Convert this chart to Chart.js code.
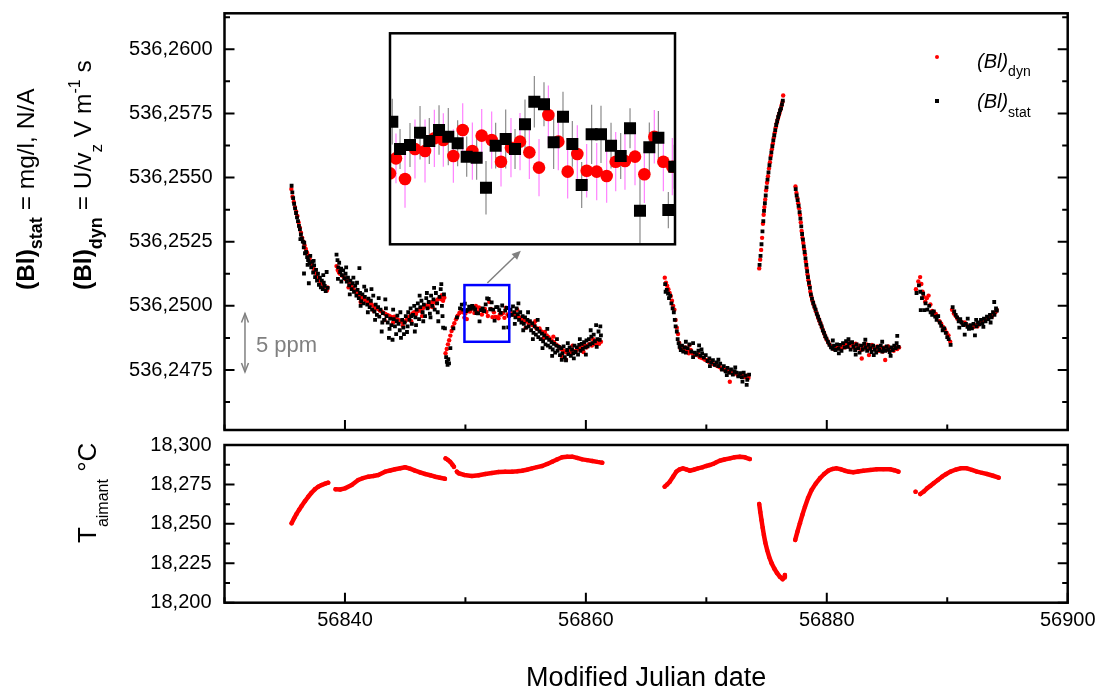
<!DOCTYPE html>
<html><head><meta charset="utf-8">
<script src="https://cdn.jsdelivr.net/npm/chart.js@4.4.0/dist/chart.umd.min.js"></script>
<style>
html,body{margin:0;padding:0;background:#fff;}
#wrap{position:relative;width:1099px;height:688px;overflow:hidden;background:#fff;font-family:'Liberation Sans',Arial,sans-serif;color:#000;}
canvas{position:absolute;}
.vt{position:absolute;transform-origin:0 0;transform:rotate(-90deg);white-space:nowrap;line-height:1;}
.rel{position:relative;}
.lg{position:absolute;white-space:nowrap;line-height:1;}
</style></head>
<body><div id="wrap">
<canvas id="cTop" width="1099" height="688" style="left:0;top:0"></canvas>
<canvas id="cBot" width="1099" height="688" style="left:0;top:0"></canvas>
<canvas id="cIns" width="290" height="216" style="left:388px;top:31px"></canvas>

<div class="vt" style="left:14px;top:290px;font-size:24.5px"><b>(Bl)</b><b class="rel" style="font-size:18px;top:8px">stat</b> = mg/l, N/A</div>
<div class="vt" style="left:71px;top:290px;font-size:24.5px"><b>(Bl)</b><b class="rel" style="font-size:18px;top:11px">dyn</b> = U/v<span class="rel" style="font-size:17px;top:11px">z</span> V m<span class="rel" style="font-size:16px;top:-11px">-1</span> s</div>
<div class="vt" style="left:74px;top:543px;font-size:26px">T<span class="rel" style="font-size:16px;top:12px">aimant</span> °C</div>

<div style="position:absolute;left:935px;top:55px;width:4px;height:4px;border-radius:2px;background:#ff0000"></div>
<div style="position:absolute;left:935px;top:99px;width:3.5px;height:3.5px;background:#000"></div>
<div class="lg" style="left:977px;top:51px;font-size:20px"><i>(Bl)</i><span class="rel" style="font-size:14px;top:8px">dyn</span></div>
<div class="lg" style="left:977px;top:91px;font-size:20px"><i>(Bl)</i><span class="rel" style="font-size:14px;top:9px">stat</span></div>
<div class="lg" style="left:256px;top:334px;font-size:22px;color:#808080">5 ppm</div>
</div>
<script>
// ---------- tick values ----------
const xMajorTicks = [56840, 56860, 56880, 56900];
const xMinorTicks = [56830, 56850, 56870, 56890];
const blMajorTicks = [536.2475, 536.2500, 536.2525, 536.2550, 536.2575, 536.2600];
const blMinorTicks = [536.24625, 536.24875, 536.25125, 536.25375, 536.25625, 536.25875, 536.26125];
const tMajorTicks = [18.200, 18.225, 18.250, 18.275, 18.300];
const tMinorTicks = [18.2125, 18.2375, 18.2625, 18.2875];
const xRange = [56830, 56900];
const blRange = [536.245161, 536.261403];
const tRange = [18.200, 18.300];
const zoomBoxX = [56849.92, 56853.64];
const zoomBoxY = [536.24860, 536.25081];
const insetY = [536.24880, 536.25101];

// ---------- (Bl)_dyn : [MJD, value, (error)] ----------
const blDyn = [
[56835.55,536.25455],[56835.65,536.25425],[56835.75,536.25405],[56835.85,536.25385],[56835.95,536.25368],[56836.05,536.25350],[56836.15,536.25325],[56836.25,536.25305],[56836.35,536.25285],[56836.45,536.25265],[56836.55,536.25250],[56836.65,536.25235],[56836.75,536.25222],[56836.85,536.25208],[56836.95,536.25196],[56837.05,536.25186],[56837.15,536.25172],[56837.25,536.25160],[56837.35,536.25150],[56837.45,536.25140],[56837.55,536.25130],[56837.65,536.25118],[56837.75,536.25108],[56837.90,536.25098],[56838.05,536.25088],[56838.20,536.25075],[56838.35,536.25066],[56838.50,536.25060],[56838.55,536.25072],
[56839.30,536.25155],[56839.40,536.25140],[56839.50,536.25130],[56839.60,536.25125],[56839.75,536.25118],[56839.90,536.25112],[56840.05,536.25104],[56840.20,536.25098],[56840.35,536.25090],[56840.50,536.25078],[56840.65,536.25070],[56840.80,536.25060],[56840.95,536.25052],[56841.10,536.25045],[56841.25,536.25040],[56841.40,536.25032],[56841.55,536.25028],[56841.70,536.25022],[56841.85,536.25018],[56842.00,536.25012],[56842.15,536.25008],[56842.30,536.25002],[56842.45,536.24996],[56842.60,536.24992],[56842.75,536.24988],[56842.90,536.24982],[56843.05,536.24978],[56843.20,536.24972],[56843.35,536.24968],[56843.50,536.24965],[56843.65,536.24962],[56843.80,536.24958],[56843.95,536.24955],[56844.10,536.24958],[56844.25,536.24950],[56844.40,536.24946],[56844.55,536.24942],[56844.70,536.24938],[56844.85,536.24935],[56845.00,536.24940],[56845.15,536.24948],[56845.30,536.24956],[56845.45,536.24962],[56845.60,536.24970],[56845.75,536.24975],[56845.90,536.24968],[56846.05,536.24980],[56846.20,536.24986],[56846.35,536.24978],[56846.50,536.24992],[56846.65,536.24998],[56846.80,536.25002],[56846.95,536.24995],[56847.10,536.25008],[56847.25,536.25015],[56847.40,536.25020],[56847.55,536.25012],[56847.70,536.25025],[56847.85,536.25030],[56848.00,536.25026],[56848.15,536.25020],[56848.25,536.25032],
[56840.30,536.25072],[56841.30,536.25015],[56842.40,536.24980],[56843.30,536.24945],[56844.00,536.24935],[56844.80,536.24922],[56845.50,536.24940],[56846.40,536.24960],[56847.30,536.24995],[56848.05,536.25042],
[56848.35,536.24815],[56848.45,536.24832],[56848.55,536.24850],[56848.65,536.24866],[56848.75,536.24884],[56848.85,536.24902],[56848.95,536.24918],[56849.08,536.24932],[56849.22,536.24948],[56849.36,536.24962],[56849.50,536.24972],[56849.65,536.24978],[56849.80,536.24975],
[56849.920,536.249543,0.00028],[56849.998,536.249700,0.00026],[56850.116,536.249484,0.00030],[56850.246,536.249798,0.00031],[56850.377,536.249777,0.00033],[56850.499,536.249910,0.00030],[56850.616,536.249892,0.00028],[56850.747,536.249725,0.00028],[56850.869,536.249997,0.00028],[56850.995,536.249777,0.00030],[56851.117,536.249938,0.00028],[56851.247,536.249892,0.00030],[56851.369,536.249665,0.00026],[56851.499,536.249812,0.00031],[56851.617,536.249875,0.00030],[56851.739,536.249763,0.00028],[56851.865,536.249603,0.00030],[56851.987,536.250154,0.00031],[56852.117,536.249875,0.00030],[56852.239,536.249561,0.00028],[56852.365,536.249746,0.00030],[56852.487,536.249571,0.00028],[56852.618,536.249561,0.00030],[56852.748,536.249515,0.00028],[56852.866,536.249665,0.00031],[56852.987,536.249672,0.00030],[56853.118,536.249718,0.00030],[56853.240,536.249533,0.00030],[56853.370,536.249927,0.00028],[56853.488,536.249665,0.00031],[56853.605,536.249613,0.00030],
[56853.75,536.24972],[56853.90,536.24965],[56854.05,536.24970],[56854.20,536.24962],[56854.35,536.24958],[56854.50,536.24955],[56854.65,536.24948],[56854.80,536.24952],[56854.95,536.24940],[56855.10,536.24942],[56855.25,536.24932],[56855.40,536.24935],[56855.55,536.24925],[56855.70,536.24928],[56855.85,536.24915],[56856.00,536.24910],[56856.15,536.24912],[56856.30,536.24900],[56856.45,536.24895],[56856.60,536.24898],[56856.75,536.24885],[56856.90,536.24878],[56857.05,536.24870],[56857.20,536.24862],[56857.35,536.24858],[56857.50,536.24850],[56857.65,536.24845],[56857.80,536.24840],[56857.95,536.24832],[56858.10,536.24826],[56858.25,536.24822],[56858.35,536.24790],[56858.40,536.24818],[56858.55,536.24828],[56858.70,536.24820],[56858.85,536.24815],[56859.00,536.24824],[56859.15,536.24820],[56859.30,536.24830],[56859.45,536.24835],[56859.60,536.24828],[56859.75,536.24840],[56859.90,536.24845],[56860.05,536.24838],[56860.20,536.24848],[56860.35,536.24852],[56860.50,536.24845],[56860.65,536.24855],[56860.80,536.24850],[56860.95,536.24858],[56861.10,536.24852],[56861.25,536.24860],
[56854.30,536.24985],[56855.00,536.24915],[56855.80,536.24940],[56856.50,536.24875],[56857.30,536.24880],[56858.00,536.24805],[56858.90,536.24845],[56859.80,536.24820],[56860.60,536.24870],
[56866.55,536.25110],[56866.65,536.25090],[56866.75,536.25078],[56866.85,536.25065],[56866.95,536.25050],[56867.05,536.25038],[56867.15,536.25020],[56867.25,536.25000],[56867.35,536.24985],[56867.45,536.24945],[56867.55,536.24915],[56867.65,536.24890],[56867.75,536.24855],[56867.85,536.24835],[56867.95,536.24842],[56868.10,536.24830],[56868.25,536.24838],[56868.40,536.24825],[56868.55,536.24815],[56868.60,536.24847],[56868.70,536.24828],[56868.85,536.24815],[56869.00,536.24812],[56869.15,536.24808],[56869.30,536.24812],[56869.45,536.24800],[56869.60,536.24798],[56869.75,536.24795],[56869.90,536.24790],[56870.05,536.24788],[56870.20,536.24782],[56870.35,536.24785],[56870.50,536.24775],[56870.65,536.24772],[56870.80,536.24768],[56870.95,536.24765],[56871.10,536.24762],[56871.25,536.24755],[56871.40,536.24758],[56871.55,536.24750],[56871.70,536.24748],[56871.85,536.24745],[56871.95,536.24704],[56872.00,536.24740],[56872.15,536.24742],[56872.30,536.24735],[56872.45,536.24738],[56872.60,536.24730],[56872.75,536.24728],[56872.90,536.24732],[56873.05,536.24725],[56873.20,536.24722],[56873.35,536.24728],[56873.50,536.24720],
[56874.39,536.25146],[56874.47,536.25180],[56874.55,536.25218],[56874.63,536.25265],[56874.70,536.25320],[56874.76,536.25355],[56874.82,536.25385],[56874.89,536.25415],[56874.96,536.25450],[56875.04,536.25480],[56875.12,536.25505],[56875.20,536.25535],[56875.28,536.25560],[56875.36,536.25585],[56875.44,536.25610],[56875.52,536.25632],[56875.60,536.25655],[56875.68,536.25675],[56875.76,536.25695],[56875.84,536.25712],[56875.92,536.25726],[56876.00,536.25740],[56876.08,536.25752],[56876.16,536.25765],[56876.24,536.25780],[56876.32,536.25795],[56876.38,536.25820],
[56877.40,536.25465],[56877.48,536.25440],[56877.56,536.25420],[56877.63,536.25400],[56877.70,536.25380],[56877.77,536.25355],[56877.84,536.25325],[56877.91,536.25292],[56877.98,536.25265],[56878.05,536.25245],[56878.12,536.25222],[56878.19,536.25200],[56878.26,536.25172],[56878.33,536.25148],[56878.40,536.25122],[56878.47,536.25100],[56878.55,536.25080],[56878.63,536.25055],[56878.71,536.25038],[56878.80,536.25020],[56878.90,536.25005],[56879.00,536.24992],[56879.10,536.24978],[56879.20,536.24965],[56879.30,536.24952],[56879.40,536.24940],[56879.50,536.24928],[56879.60,536.24915],[56879.70,536.24902],[56879.80,536.24890],[56879.90,536.24878],[56880.00,536.24868],[56880.15,536.24855],[56880.30,536.24845],[56880.45,536.24838],[56880.60,536.24832],[56880.75,536.24840],[56880.90,536.24835],[56881.05,536.24842],[56881.20,536.24832],[56881.35,536.24845],[56881.50,536.24838],[56881.65,536.24850],[56881.80,536.24842],[56881.95,536.24855],[56882.10,536.24848],[56882.25,536.24838],[56882.40,536.24852],[56882.55,536.24835],[56882.70,536.24845],[56882.85,536.24828],[56882.90,536.24795],[56883.00,536.24842],[56883.15,536.24835],[56883.30,536.24850],[56883.45,536.24840],[56883.50,536.24808],[56883.60,536.24832],[56883.75,536.24848],[56883.90,536.24838],[56884.05,536.24830],[56884.20,536.24842],[56884.35,536.24825],[56884.50,536.24835],[56884.65,536.24822],[56884.80,536.24838],[56884.85,536.24789],[56884.95,536.24828],[56885.10,536.24842],[56885.25,536.24830],[56885.40,536.24835],[56885.55,536.24825],[56885.70,536.24840],[56885.85,536.24832],[56886.00,536.24838],
[56887.40,536.25065],[56887.60,536.25095],[56887.75,536.25112],[56887.85,536.25085],[56887.95,536.25055],[56888.05,536.25035],[56888.17,536.25016],[56888.30,536.25030],[56888.45,536.25040],[56888.60,536.25005],[56888.75,536.24980],[56888.90,536.24975],[56889.05,536.24968],[56889.20,536.24960],[56889.35,536.24940],[56889.50,536.24930],[56889.65,536.24918],[56889.80,536.24908],[56889.95,536.24895],[56890.10,536.24885],[56890.25,536.24860],[56890.40,536.24985],[56890.55,536.24970],[56890.70,536.24960],[56890.85,536.24950],[56891.00,536.24945],[56891.15,536.24938],[56891.30,536.24930],[56891.45,536.24935],[56891.60,536.24925],[56891.75,536.24920],[56891.90,536.24915],[56892.05,536.24922],[56892.20,536.24918],[56892.35,536.24925],[56892.50,536.24920],[56892.65,536.24930],[56892.80,536.24935],[56892.95,536.24940],[56893.10,536.24945],[56893.25,536.24950],[56893.40,536.24955],[56893.55,536.24962],[56893.70,536.24958],[56893.85,536.24968],[56894.00,536.24975],[56894.10,536.24985]
];

// ---------- (Bl)_stat : [MJD, value, (error)] ----------
const blStat = [
[56835.57,536.25468],[56835.63,536.25442],[56835.70,536.25420],[56835.78,536.25398],[56835.86,536.25380],[56835.94,536.25362],[56836.02,536.25345],[56836.10,536.25330],[56836.18,536.25312],[56836.26,536.25298],[56836.34,536.25278],[56836.42,536.25262],[56836.50,536.25250],[56836.58,536.25228],[56836.62,536.25246],[56836.68,536.25205],[56836.60,536.25126],[56836.78,536.25210],[56836.86,536.25190],[56836.94,536.25178],[56837.00,536.25088],[56837.05,536.25165],[56837.12,536.25195],[56837.20,536.25150],[56837.28,536.25172],[56837.36,536.25130],[56837.44,536.25158],[56837.52,536.25112],[56837.60,536.25140],[56837.68,536.25098],[56837.76,536.25125],[56837.84,536.25082],[56837.92,536.25110],[56838.00,536.25072],[56838.08,536.25098],[56838.16,536.25065],[56838.24,536.25090],[56838.32,536.25078],[56838.40,536.25058],[56838.48,536.25132],[56838.56,536.25070],
[56836.30,536.25260],[56836.90,536.25160],[56837.40,536.25175],[56838.20,536.25120],
[56839.30,536.25200],[56839.38,536.25178],[56839.45,536.25150],[56839.52,536.25168],[56839.60,536.25132],[56839.68,536.25145],[56839.75,536.25120],[56839.85,536.25138],[56839.95,536.25108],[56840.05,536.25125],[56840.15,536.25095],[56840.25,536.25110],[56840.35,536.25080],[56840.45,536.25098],[56840.55,536.25065],[56840.65,536.25088],[56840.75,536.25055],[56840.85,536.25078],[56840.95,536.25040],[56841.05,536.25062],[56841.15,536.25030],[56841.20,536.25147],[56841.25,536.25050],[56841.35,536.25018],[56841.45,536.25045],[56841.55,536.25010],[56841.65,536.25035],[56841.75,536.25060],[56841.85,536.25005],[56841.95,536.25028],[56842.05,536.24995],[56842.15,536.25020],[56842.25,536.24985],[56842.35,536.25040],[56842.45,536.24978],[56842.55,536.25005],[56842.65,536.24965],[56842.75,536.24995],[56842.85,536.24958],[56842.95,536.24985],[56843.05,536.24900],[56843.15,536.24972],[56843.25,536.24945],[56843.35,536.25025],[56843.45,536.24960],[56843.55,536.24935],[56843.65,536.24875],[56843.75,536.24950],[56843.85,536.24925],[56843.95,536.24868],[56844.05,536.24948],[56844.15,536.24920],[56844.25,536.24890],[56844.35,536.24962],[56844.45,536.24930],[56844.55,536.24905],[56844.65,536.24875],[56844.75,536.24945],[56844.85,536.24915],[56844.95,536.24935],[56845.05,536.24960],[56845.15,536.24898],[56845.25,536.24975],[56845.35,536.24945],[56845.45,536.24990],[56845.55,536.24930],[56845.65,536.24965],[56845.75,536.25000],[56845.80,536.24900],[56845.85,536.24955],[56845.95,536.24985],[56846.05,536.25010],[56846.15,536.24948],[56846.25,536.24995],[56846.35,536.25020],[56846.45,536.24975],[56846.55,536.25005],[56846.65,536.24960],[56846.75,536.25030],[56846.85,536.24990],[56846.95,536.25015],[56847.05,536.24970],[56847.15,536.25040],[56847.25,536.25000],[56847.35,536.25025],[56847.45,536.24985],[56847.55,536.25050],[56847.65,536.25010],[56847.75,536.24940],[56847.85,536.25035],[56847.95,536.25065],[56848.05,536.25000],[56848.15,536.24915],[56848.22,536.25045],[56848.30,536.24912],
[56839.42,536.25105],[56839.70,536.25095],[56840.10,536.25150],[56840.40,536.25045],[56840.70,536.25110],[56841.00,536.25090],[56841.30,536.25000],[56841.60,536.25075],[56841.90,536.24975],[56842.20,536.25065],[56842.50,536.24945],[56842.80,536.25030],[56843.10,536.24935],[56843.40,536.24990],[56843.70,536.24910],[56844.00,536.24985],[56844.30,536.24940],[56844.60,536.24975],[56844.90,536.24890],[56845.20,536.24920],[56845.50,536.24960],[56845.90,536.24925],[56846.20,536.25040],[56846.50,536.24940],[56846.80,536.25050],[56847.10,536.24955],[56847.40,536.25070],[56847.70,536.24975],[56848.00,536.25085],[56848.10,536.24960],
[56848.40,536.24800],[56848.46,536.24782],[56848.52,536.24770],[56848.58,536.24792],[56848.64,536.24776],[56848.75,536.24835],[56849.00,536.24912],[56849.30,536.24955],[56849.55,536.24990],[56849.70,536.25005],[56849.82,536.24985],
[56849.950,536.250084,0.00024],[56850.051,536.249798,0.00021],[56850.181,536.249840,0.00023],[56850.312,536.249969,0.00028],[56850.433,536.249882,0.00024],[56850.560,536.249997,0.00026],[56850.681,536.249927,0.00030],[56850.803,536.249858,0.00024],[56850.921,536.249718,0.00021],[56851.051,536.249707,0.00023],[56851.173,536.249393,0.00028],[56851.299,536.249833,0.00024],[56851.430,536.249903,0.00031],[56851.552,536.249798,0.00021],[56851.682,536.250057,0.00026],[56851.804,536.250294,0.00027],[56851.930,536.250266,0.00023],[56852.056,536.249868,0.00028],[56852.178,536.250137,0.00026],[56852.300,536.249851,0.00024],[56852.422,536.249421,0.00024],[56852.552,536.249952,0.00031],[56852.674,536.249952,0.00030],[56852.805,536.249833,0.00024],[56852.931,536.249725,0.00024],[56853.053,536.250015,0.00021],[56853.183,536.249152,0.00037],[56853.305,536.249816,0.00026],[56853.423,536.249917,0.00028],[56853.553,536.249159,0.00019],[56853.631,536.249613,0.00023],
[56853.75,536.24985],[56853.85,536.24965],[56853.95,536.24998],[56854.05,536.24975],[56854.15,536.24955],[56854.25,536.24990],[56854.35,536.24968],[56854.45,536.24945],[56854.55,536.24975],[56854.65,536.24935],[56854.75,536.24960],[56854.85,536.24930],[56854.95,536.24955],[56855.05,536.24915],[56855.15,536.24945],[56855.25,536.24920],[56855.35,536.24940],[56855.45,536.24905],[56855.55,536.24932],[56855.65,536.24895],[56855.75,536.24920],[56855.85,536.24888],[56855.95,536.24910],[56856.05,536.24878],[56856.15,536.24900],[56856.25,536.24870],[56856.35,536.24892],[56856.45,536.24862],[56856.55,536.24885],[56856.65,536.24850],[56856.75,536.24875],[56856.85,536.24845],[56856.95,536.24868],[56857.05,536.24838],[56857.15,536.24858],[56857.25,536.24830],[56857.35,536.24852],[56857.45,536.24818],[56857.55,536.24845],[56857.65,536.24825],[56857.75,536.24840],[56857.85,536.24808],[56857.95,536.24835],[56858.05,536.24815],[56858.15,536.24842],[56858.25,536.24800],[56858.35,536.24788],[56858.45,536.24828],[56858.55,536.24812],[56858.65,536.24838],[56858.75,536.24805],[56858.85,536.24830],[56858.95,536.24815],[56859.05,536.24845],[56859.15,536.24820],[56859.25,536.24838],[56859.35,536.24810],[56859.45,536.24848],[56859.55,536.24825],[56859.65,536.24852],[56859.75,536.24832],[56859.85,536.24858],[56859.95,536.24838],[56860.05,536.24865],[56860.15,536.24842],[56860.25,536.24870],[56860.35,536.24850],[56860.45,536.24880],[56860.55,536.24855],[56860.65,536.24888],[56860.75,536.24862],[56860.85,536.24925],[56860.95,536.24870],[56861.05,536.24900],[56861.15,536.24868],[56861.25,536.24885],
[56854.10,536.24930],[56854.40,536.25010],[56854.80,536.24905],[56855.20,536.24975],[56855.60,536.24870],[56856.00,536.24945],[56856.40,536.24835],[56856.80,536.24910],[56857.20,536.24805],[56857.60,536.24870],[56858.00,536.24790],[56858.50,536.24855],[56859.00,536.24795],[56859.50,536.24870],[56860.00,536.24810],[56860.40,536.24905],[56860.90,536.24840],[56861.20,536.24920],
[56866.58,536.25085],[56866.62,536.25055],[56866.72,536.25062],[56866.82,536.25048],[56866.90,536.25030],[56867.00,536.25040],[56867.10,536.25010],[56867.20,536.24990],[56867.30,536.24975],[56867.38,536.24945],[56867.45,536.24920],[56867.55,536.24900],[56867.62,536.24870],[56867.70,536.24855],[56867.78,536.24840],[56867.88,536.24828],[56867.98,536.24845],[56868.08,536.24822],[56868.20,536.24838],[56868.30,536.24818],[56868.45,536.24835],[56868.60,536.24850],[56868.75,536.24822],[56868.90,536.24855],[56869.05,536.24818],[56869.20,536.24810],[56869.35,536.24825],[56869.40,536.24846],[56869.50,536.24805],[56869.65,536.24815],[56869.80,536.24798],[56869.95,536.24808],[56870.10,536.24785],[56870.25,536.24795],[56870.40,536.24780],[56870.55,536.24788],[56870.70,536.24770],[56870.85,536.24780],[56871.00,536.24765],[56871.15,536.24775],[56871.30,536.24752],[56871.45,536.24765],[56871.60,536.24745],[56871.75,536.24758],[56871.90,536.24740],[56872.05,536.24752],[56872.20,536.24732],[56872.35,536.24745],[56872.50,536.24740],[56872.65,536.24725],[56872.80,536.24738],[56872.95,536.24722],[56873.10,536.24740],[56873.25,536.24728],[56873.35,536.24692],[56873.40,536.24712],[56873.55,536.24732],
[56868.30,536.24860],[56868.90,536.24800],[56869.60,536.24830],[56870.30,536.24765],[56871.00,536.24790],[56871.70,536.24730],[56872.40,536.24760],[56873.00,536.24705],
[56874.42,536.25160],[56874.50,536.25195],[56874.58,536.25240],[56874.66,536.25290],[56874.73,536.25330],[56874.79,536.25370],[56874.86,536.25400],[56874.93,536.25430],[56875.00,536.25462],[56875.08,536.25492],[56875.16,536.25520],[56875.24,536.25548],[56875.32,536.25575],[56875.40,536.25598],[56875.48,536.25622],[56875.56,536.25645],[56875.64,536.25665],[56875.72,536.25685],[56875.80,536.25705],[56875.88,536.25720],[56875.96,536.25735],[56876.04,536.25748],[56876.12,536.25762],[56876.20,536.25770],[56876.28,536.25785],[56876.35,536.25800],
[56877.42,536.25455],[56877.50,536.25430],[56877.58,536.25412],[56877.66,536.25390],[56877.74,536.25365],[56877.81,536.25340],[56877.88,536.25310],[56877.95,536.25280],[56878.02,536.25258],[56878.09,536.25232],[56878.16,536.25210],[56878.23,536.25185],[56878.30,536.25160],[56878.37,536.25135],[56878.44,536.25112],[56878.52,536.25090],[56878.60,536.25070],[56878.68,536.25045],[56878.77,536.25028],[56878.87,536.25012],[56878.97,536.24998],[56879.07,536.24985],[56879.17,536.24970],[56879.27,536.24958],[56879.37,536.24945],[56879.47,536.24932],[56879.57,536.24920],[56879.67,536.24905],[56879.77,536.24895],[56879.87,536.24882],[56879.97,536.24872],[56880.10,536.24860],[56880.22,536.24848],[56880.35,536.24838],[56880.48,536.24832],[56880.60,536.24845],[56880.72,536.24828],[56880.85,536.24850],[56880.98,536.24832],[56881.10,536.24848],[56881.22,536.24825],[56881.35,536.24855],[56881.48,536.24838],[56881.60,536.24862],[56881.72,536.24840],[56881.85,536.24855],[56881.98,536.24830],[56882.10,536.24858],[56882.22,536.24842],[56882.35,536.24828],[56882.48,536.24850],[56882.60,536.24835],[56882.72,536.24818],[56882.85,536.24845],[56882.98,536.24830],[56883.10,536.24852],[56883.22,536.24838],[56883.35,536.24825],[56883.48,536.24848],[56883.60,536.24835],[56883.72,536.24820],[56883.85,536.24845],[56883.98,536.24830],[56884.10,536.24818],[56884.22,536.24840],[56884.35,536.24828],[56884.48,536.24845],[56884.60,536.24822],[56884.72,536.24835],[56884.85,536.24825],[56884.98,536.24842],[56885.10,536.24830],[56885.22,536.24820],[56885.35,536.24838],[56885.48,536.24828],[56885.60,536.24845],[56885.72,536.24835],[56885.85,536.24883],[56885.95,536.24840],
[56880.50,536.24865],[56881.00,536.24815],[56881.80,536.24870],[56882.40,536.24810],[56883.20,536.24868],[56883.90,536.24808],[56884.60,536.24860],[56885.30,536.24805],[56885.80,536.24855],
[56887.45,536.25050],[56887.65,536.25080],[56887.76,536.25055],[56887.80,536.24983],[56887.90,536.25030],[56888.00,536.25048],[56888.10,536.24983],[56888.20,536.25010],[56888.35,536.24985],[56888.50,536.25000],[56888.62,536.24975],[56888.75,536.24965],[56888.88,536.24978],[56889.00,536.24958],[56889.12,536.24945],[56889.25,536.24960],[56889.38,536.24935],[56889.50,536.24922],[56889.62,536.24905],[56889.75,536.24912],[56889.88,536.24895],[56890.00,536.24878],[56890.12,536.24870],[56890.28,536.24848],[56890.45,536.24995],[56890.58,536.24978],[56890.70,536.24965],[56890.82,536.24955],[56890.95,536.24940],[56891.08,536.24948],[56891.20,536.24935],[56891.32,536.24925],[56891.45,536.24888],[56891.55,536.24930],[56891.68,536.24918],[56891.80,536.24910],[56891.92,536.24925],[56892.05,536.24912],[56892.18,536.24930],[56892.30,536.24885],[56892.42,536.24920],[56892.55,536.24935],[56892.68,536.24928],[56892.80,536.24945],[56892.92,536.24932],[56893.05,536.24950],[56893.18,536.24940],[56893.30,536.24958],[56893.42,536.24948],[56893.55,536.24965],[56893.68,536.24955],[56893.80,536.24975],[56893.90,536.25015],[56893.92,536.24965],[56894.05,536.24990],[56894.12,536.24982],
[56891.00,536.24915],[56891.70,536.24950],[56892.40,536.24945],[56893.00,536.24918],[56893.60,536.24935]
];

// ---------- T_aimant : [MJD, °C] (null = gap between runs) ----------
const tAimant = [
[56835.57,18.2504],[56835.78,18.2535],[56835.98,18.2563],[56836.20,18.2590],[56836.40,18.2613],[56836.67,18.2643],[56836.95,18.2672],[56837.22,18.2697],[56837.50,18.2719],[56837.78,18.2735],[56838.06,18.2746],[56838.35,18.2755],[56838.61,18.2761],[56838.90,null],
[56839.22,18.2719],[56839.60,18.2718],[56840.00,18.2725],[56840.56,18.2746],[56841.10,18.2778],[56841.50,18.2790],[56841.94,18.2799],[56842.35,18.2803],[56842.77,18.2810],[56843.33,18.2831],[56843.75,18.2838],[56844.16,18.2846],[56844.60,18.2853],[56844.99,18.2859],[56845.40,18.2850],[56845.82,18.2837],[56846.24,18.2826],[56846.66,18.2816],[56847.08,18.2808],[56847.49,18.2799],[56847.90,18.2792],[56848.30,18.2786],[56848.33,null],
[56848.35,18.2915],[56848.55,18.2905],[56848.73,18.2894],[56848.92,18.2875],[56849.05,18.2862],[56849.15,null],
[56849.29,18.2831],[56849.43,18.2821],[56849.90,18.2810],[56850.54,18.2803],[56851.10,18.2808],[56851.65,18.2816],[56852.20,18.2822],[56852.76,18.2829],[56853.30,18.2830],[56853.87,18.2831],[56854.30,18.2833],[56854.70,18.2837],[56855.10,18.2843],[56855.53,18.2852],[56855.95,18.2860],[56856.37,18.2867],[56856.80,18.2880],[56857.20,18.2894],[56857.60,18.2908],[56858.03,18.2922],[56858.45,18.2926],[56858.86,18.2926],[56859.28,18.2918],[56859.70,18.2909],[56860.10,18.2904],[56860.53,18.2899],[56860.95,18.2893],[56861.36,18.2888],[56862.00,null],
[56866.54,18.2736],[56866.75,18.2750],[56866.96,18.2767],[56867.25,18.2800],[56867.51,18.2831],[56867.78,18.2845],[56868.06,18.2852],[56868.34,18.2845],[56868.62,18.2837],[56868.95,18.2843],[56869.31,18.2852],[56869.65,18.2858],[56870.00,18.2867],[56870.28,18.2873],[56870.56,18.2880],[56870.83,18.2890],[56871.11,18.2900],[56871.50,18.2908],[56871.95,18.2915],[56872.35,18.2922],[56872.78,18.2926],[56873.20,18.2922],[56873.61,18.2911],[56874.00,null],
[56874.39,18.2626],[56874.48,18.2575],[56874.58,18.2524],[56874.68,18.2475],[56874.78,18.2429],[56874.90,18.2380],[56875.05,18.2334],[56875.22,18.2290],[56875.42,18.2250],[56875.65,18.2215],[56875.88,18.2187],[56876.10,18.2165],[56876.33,18.2149],[56876.45,18.2160],[56876.52,18.2176],[56877.00,null],
[56877.38,18.2398],[56877.57,18.2452],[56877.77,18.2504],[56877.98,18.2558],[56878.19,18.2609],[56878.45,18.2665],[56878.74,18.2715],[56879.08,18.2755],[56879.43,18.2789],[56879.78,18.2816],[56880.12,18.2837],[56880.47,18.2848],[56880.82,18.2852],[56881.17,18.2846],[56881.51,18.2837],[56881.85,18.2830],[56882.20,18.2827],[56882.60,18.2832],[56883.03,18.2837],[56883.60,18.2842],[56884.15,18.2846],[56884.70,18.2847],[56885.26,18.2846],[56885.60,18.2840],[56885.95,18.2831],[56886.50,null],
[56887.37,18.2704],[56887.55,null],
[56887.76,18.2689],[56888.05,18.2705],[56888.32,18.2725],[56888.60,18.2741],[56888.87,18.2757],[56889.22,18.2778],[56889.57,18.2799],[56889.92,18.2816],[56890.26,18.2831],[56890.68,18.2843],[56891.10,18.2852],[56891.63,18.2852],[56892.05,18.2842],[56892.47,18.2831],[56892.90,18.2823],[56893.30,18.2816],[56893.80,18.2805],[56894.27,18.2793]
];

// ---------- helpers ----------
const FONT = "'Liberation Sans', Arial, sans-serif";
Chart.defaults.font.family = FONT;
Chart.defaults.color = '#000';
const toPts = arr => arr.map(p => ({x: p[0], y: p[1], e: p[2]}));
const comma = (v, d) => Number(v).toFixed(d).replace('.', ',');

const framePlugin = {
  id: 'frame',
  afterDatasetsDraw(chart, args, o) {
    const {ctx, chartArea: a, scales: {x, y}} = chart;
    ctx.save();
    ctx.strokeStyle = '#000';
    ctx.lineWidth = 2;
    ctx.beginPath();
    const yt = (vals, len) => vals.forEach(v => {
      const p = y.getPixelForValue(v);
      if (p < a.top - 0.5 || p > a.bottom + 0.5) return;
      ctx.moveTo(a.left, p); ctx.lineTo(a.left + len, p);
      ctx.moveTo(a.right, p); ctx.lineTo(a.right - len, p);
    });
    const xt = (vals, len) => vals.forEach(v => {
      const p = x.getPixelForValue(v);
      ctx.moveTo(p, a.bottom); ctx.lineTo(p, a.bottom - len);
    });
    yt(o.yMajor, 10); yt(o.yMinor, 5.5); xt(o.xMajor, 10); xt(o.xMinor, 5.5);
    ctx.stroke();
    ctx.lineWidth = 2.5;
    ctx.strokeRect(a.left, a.top, a.right - a.left, a.bottom - a.top);
    ctx.restore();
  }
};

function arrowHead(ctx, x0, y0, x1, y1, len, half, filled) {
  const dx = x1 - x0, dy = y1 - y0, L = Math.hypot(dx, dy);
  const ux = dx / L, uy = dy / L;
  const bx = x1 - ux * len, by = y1 - uy * len;
  ctx.beginPath();
  ctx.moveTo(bx - uy * half, by + ux * half);
  ctx.lineTo(x1, y1);
  ctx.lineTo(bx + uy * half, by - ux * half);
  if (filled) { ctx.closePath(); ctx.fill(); } else { ctx.stroke(); }
}

const annotPlugin = {
  id: 'annot',
  afterDatasetsDraw(chart) {
    const {ctx, scales: {x, y}} = chart;
    ctx.save();
    const bx0 = x.getPixelForValue(zoomBoxX[0]), bx1 = x.getPixelForValue(zoomBoxX[1]);
    const by0 = y.getPixelForValue(zoomBoxY[0]), by1 = y.getPixelForValue(zoomBoxY[1]);
    ctx.strokeStyle = '#0000ff'; ctx.lineWidth = 2.5;
    ctx.strokeRect(bx0, by1, bx1 - bx0, by0 - by1);
    const ax0 = x.getPixelForValue(56851.82), ay0 = y.getPixelForValue(536.25089);
    const ax1 = x.getPixelForValue(56854.60), ay1 = y.getPixelForValue(536.25215);
    ctx.strokeStyle = '#808080'; ctx.fillStyle = '#808080'; ctx.lineWidth = 1.5;
    ctx.beginPath(); ctx.moveTo(ax0, ay0); ctx.lineTo(ax1 - (ax1 - ax0) * 0.15, ay1 - (ay1 - ay0) * 0.15); ctx.stroke();
    arrowHead(ctx, ax0, ay0, ax1, ay1, 9, 4, true);
    const px = x.getPixelForValue(56831.70);
    const pTop = y.getPixelForValue(536.24970), pBot = y.getPixelForValue(536.24742);
    ctx.lineWidth = 1.5;
    ctx.beginPath(); ctx.moveTo(px, pTop); ctx.lineTo(px, pBot); ctx.stroke();
    arrowHead(ctx, px, pBot, px, pTop, 9, 3.5, false);
    arrowHead(ctx, px, pTop, px, pBot, 9, 3.5, false);
    ctx.restore();
  }
};

// ---------- top panel ----------
new Chart(document.getElementById('cTop'), {
  type: 'scatter',
  data: {datasets: [
    {label: '(Bl)stat', data: toPts(blStat), pointStyle: 'rect', pointRadius: 2.7, backgroundColor: '#000', borderWidth: 0},
    {label: '(Bl)dyn', data: toPts(blDyn), pointStyle: 'circle', pointRadius: 2.2, backgroundColor: '#ff0000', borderWidth: 0}
  ]},
  options: {
    responsive: false, animation: false, devicePixelRatio: 1, events: [],
    layout: {autoPadding: false, padding: {top: 13.3, right: 31.3, bottom: 258, left: 0}},
    plugins: {legend: {display: false}, tooltip: {enabled: false},
      frame: {yMajor: blMajorTicks, yMinor: blMinorTicks, xMajor: xMajorTicks, xMinor: xMinorTicks}},
    scales: {
      x: {type: 'linear', display: false, min: xRange[0], max: xRange[1]},
      y: {type: 'linear', min: blRange[0], max: blRange[1],
        afterBuildTicks: s => { s.ticks = blMajorTicks.map(v => ({value: v})); },
        afterFit: s => { s.width = 224.5; s.paddingTop = 0; s.paddingBottom = 0; },
        ticks: {callback: v => comma(v, 4), font: {size: 20}, color: '#000', padding: 12, autoSkip: false},
        grid: {display: false, drawTicks: false}, border: {display: false}}
    }
  },
  plugins: [framePlugin, annotPlugin]
});

// ---------- bottom panel ----------
new Chart(document.getElementById('cBot'), {
  type: 'line',
  data: {datasets: [
    {label: 'T aimant', data: toPts(tAimant), borderColor: '#ff0000', backgroundColor: '#ff0000', borderWidth: 4.5,
     pointRadius: 2.2, pointBorderWidth: 0, spanGaps: false, tension: 0, borderCapStyle: 'round', borderJoinStyle: 'round'}
  ]},
  options: {
    responsive: false, animation: false, devicePixelRatio: 1, events: [],
    layout: {autoPadding: false, padding: {top: 445, right: 31.3, bottom: 0, left: 0}},
    plugins: {legend: {display: false}, tooltip: {enabled: false},
      frame: {yMajor: tMajorTicks, yMinor: tMinorTicks, xMajor: xMajorTicks, xMinor: xMinorTicks}},
    scales: {
      x: {type: 'linear', min: xRange[0], max: xRange[1],
        afterBuildTicks: s => { s.ticks = xMajorTicks.map(v => ({value: v})); },
        afterFit: s => { s.height = 85.3; s.paddingLeft = 0; s.paddingRight = 0; },
        ticks: {callback: v => String(v), font: {size: 20}, color: '#000', padding: 6, autoSkip: false, maxRotation: 0},
        grid: {display: false, drawTicks: false}, border: {display: false},
        title: {display: true, text: 'Modified Julian date', font: {size: 27, lineHeight: 0.72}, color: '#000', padding: {top: 0, bottom: 0}}},
      y: {type: 'linear', min: tRange[0], max: tRange[1],
        afterBuildTicks: s => { s.ticks = tMajorTicks.map(v => ({value: v})); },
        afterFit: s => { s.width = 224.5; s.paddingTop = 0; s.paddingBottom = 0; },
        ticks: {callback: v => comma(v, 3), font: {size: 20}, color: '#000', padding: 13, autoSkip: false},
        grid: {display: false, drawTicks: false}, border: {display: false}}
    }
  },
  plugins: [framePlugin]
});

// ---------- inset ----------
const insetBg = {id: 'insetBg', beforeDraw(chart) { const c = chart.ctx; c.save(); c.fillStyle = '#fff'; c.fillRect(0, 0, chart.width, chart.height); c.restore(); }};
const errBars = {
  id: 'errBars',
  beforeDatasetsDraw(chart) {
    const {ctx, chartArea: a, scales: {x, y}} = chart;
    ctx.save();
    ctx.beginPath(); ctx.rect(a.left, a.top, a.right - a.left, a.bottom - a.top); ctx.clip();
    ctx.lineWidth = 1.2;
    chart.data.datasets.slice().reverse().forEach(ds => {
      ctx.strokeStyle = ds.errColor;
      ctx.beginPath();
      ds.data.forEach(p => {
        if (p.e === undefined) return;
        const px = x.getPixelForValue(p.x);
        ctx.moveTo(px, y.getPixelForValue(p.y - p.e));
        ctx.lineTo(px, y.getPixelForValue(p.y + p.e));
      });
      ctx.stroke();
    });
    ctx.restore();
  },
  afterDatasetsDraw(chart) {
    const {ctx, chartArea: a} = chart;
    ctx.save(); ctx.strokeStyle = '#000'; ctx.lineWidth = 2.5;
    ctx.strokeRect(a.left, a.top, a.right - a.left, a.bottom - a.top);
    ctx.restore();
  }
};
new Chart(document.getElementById('cIns'), {
  type: 'scatter',
  data: {datasets: [
    {label: '(Bl)stat', data: toPts(blStat).filter(p => p.e !== undefined), pointStyle: 'rect', pointRadius: 8.5, backgroundColor: '#000', borderWidth: 0, errColor: '#8a8a8a'},
    {label: '(Bl)dyn', data: toPts(blDyn).filter(p => p.e !== undefined), pointStyle: 'circle', pointRadius: 6.3, backgroundColor: '#ff0000', borderWidth: 0, errColor: '#ff80ff'}
  ]},
  options: {
    responsive: false, animation: false, devicePixelRatio: 1, events: [],
    layout: {autoPadding: false, padding: {left: 2, top: 2.3, right: 3, bottom: 2.7}},
    plugins: {legend: {display: false}, tooltip: {enabled: false}},
    scales: {
      x: {type: 'linear', display: false, min: zoomBoxX[0], max: zoomBoxX[1]},
      y: {type: 'linear', display: false, min: insetY[0], max: insetY[1]}
    }
  },
  plugins: [insetBg, errBars]
});
</script>
</body></html>
